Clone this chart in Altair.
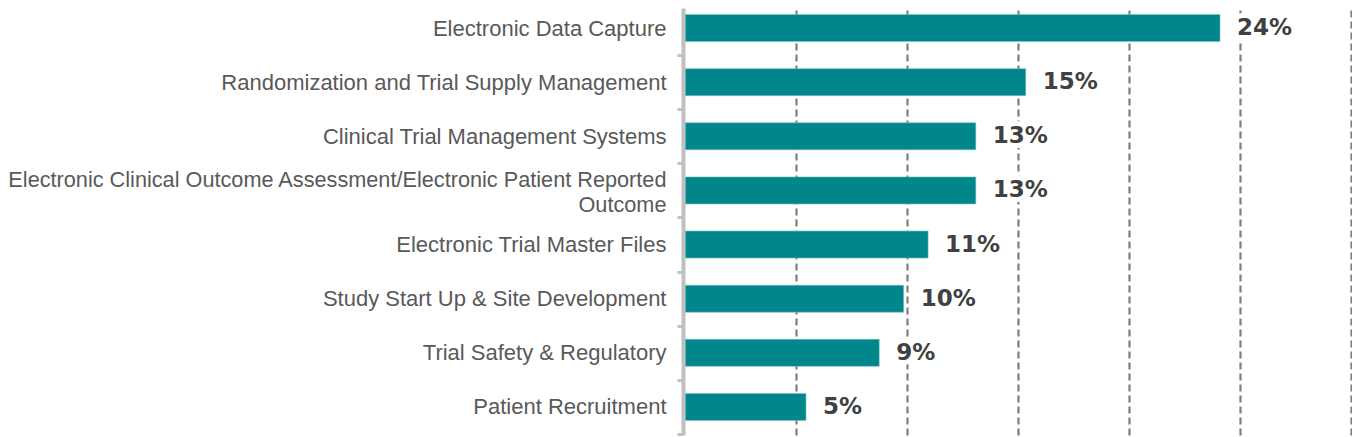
import altair as alt
import pandas as pd

# values (share of respondents, %)
categories = [
    'Electronic Data Capture',
    'Randomization and Trial Supply Management',
    'Clinical Trial Management Systems',
    'Electronic Clinical Outcome Assessment/Electronic Patient Reported Outcome',
    'Electronic Trial Master Files',
    'Study Start Up & Site Development',
    'Trial Safety & Regulatory',
    'Patient Recruitment',
]
values = [24.1, 15.35, 13.1, 13.1, 10.95, 9.85, 8.75, 5.45]
labels = ['24%', '15%', '13%', '13%', '11%', '10%', '9%', '5%']
grid_ticks = [5, 10, 15, 20, 25, 30]

df = pd.DataFrame({'category': categories, 'value': values, 'label': labels})

long_label = categories[3]
is_long = "datum.value == '%s'" % long_label
label_expr = ("%s ? ['Electronic Clinical Outcome Assessment/Electronic Patient Reported', "
              "'Outcome'] : datum.label" % is_long)

y = alt.Y('category:N', sort=categories, title=None,
          scale=alt.Scale(paddingInner=0.5, paddingOuter=0.194, align=0.31),
          axis=alt.Axis(labelFont='Liberation Sans', labelColor='#595959',
                        labelFontSize={'condition': {'test': is_long, 'value': 21.7}, 'value': 22},
                        labelOffset={'condition': {'test': is_long, 'value': -37.5}, 'value': -27},
                        labelPadding=11, labelLimit=800, labelLineHeight=25, labelExpr=label_expr,
                        offset=2, domainColor='#c0c0c0', domainWidth=4, tickColor='#c0c0c0',
                        tickWidth=3, tickSize=6, tickOffset=27, zindex=1))

x = alt.X('value:Q', title=None, scale=alt.Scale(domain=[0, 30], nice=False),
          axis=alt.Axis(values=grid_ticks, labels=False, ticks=False, domain=False,
                        grid=True, gridDash=[7, 4], gridColor='#7f7f7f', gridWidth=2.2))

base = alt.Chart(df)

bars = base.mark_bar(color='#00868b', stroke='#7fc3c5', strokeWidth=0.6).encode(x=x, y=y)

text_style = dict(align='left', baseline='middle', dx=17, font='DejaVu Sans',
                  fontWeight='bold', fontSize=23)
text_enc = dict(x='value:Q', y=alt.Y('category:N', sort=categories), text='label:N')

# white halo hides the dashed grid behind the value labels
halo = base.mark_text(color='white', stroke='white', strokeWidth=10, **text_style).encode(**text_enc)
text = base.mark_text(color='#404040', **text_style).encode(**text_enc)

chart = (bars + halo + text).properties(
    width=666, height=427,
    autosize=alt.AutoSizeParams(type='none'),
    padding={'left': 677, 'top': 0, 'right': 1, 'bottom': 2},
).configure_view(strokeOpacity=0)

chart.save("out.html", embed_options={"renderer": "svg", "actions": False})
